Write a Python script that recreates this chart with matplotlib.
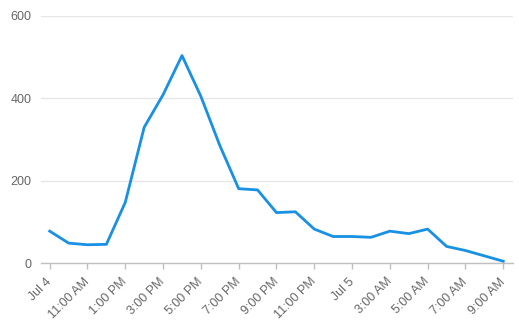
import matplotlib
matplotlib.use("Agg")
import matplotlib.pyplot as plt

plt.rcParams['font.family'] = ['Liberation Sans', 'DejaVu Sans']

values = [78, 49, 45, 46, 148, 330, 409, 504, 405, 286, 181, 178, 123, 125,
          83, 65, 65, 63, 78, 72, 83, 41, 31, 18, 5]
tick_labels = ["Jul 4", "11:00 AM", "1:00 PM", "3:00 PM", "5:00 PM", "7:00 PM",
               "9:00 PM", "11:00 PM", "Jul 5", "3:00 AM", "5:00 AM", "7:00 AM",
               "9:00 AM"]
y_ticks = [0, 200, 400, 600]

x = list(range(len(values)))
tick_pos = x[::2]

fig = plt.figure(figsize=(5.19, 3.35), dpi=100)
ax = fig.add_axes([41/519, (335-263.3)/335, (512.7-41)/519, (263.3-16)/335])

ax.plot(x, values, color='#1890e3', linewidth=2, solid_joinstyle='round', zorder=3)

ax.set_xlim(-0.46, 24.5)
ax.set_ylim(0, 600)
ax.set_yticks(y_ticks)
ax.set_yticklabels([str(v) for v in y_ticks])
ax.set_xticks(tick_pos)
ax.set_xticklabels(tick_labels, rotation=45, ha='right', va='center',
                   rotation_mode='anchor')

for s in ['top', 'right', 'left']:
    ax.spines[s].set_visible(False)
ax.spines['bottom'].set_color('#c0c0c0')
ax.spines['bottom'].set_linewidth(1)

ax.grid(axis='y', color='#e6e6e6', linewidth=1)
ax.set_axisbelow(True)
ax.tick_params(axis='y', length=0, pad=7, labelsize=9, labelcolor='#666666')
ax.tick_params(axis='x', length=4, width=1, color='#c0c0c0', pad=8,
               labelsize=9, labelcolor='#666666')

fig.savefig('out.png', dpi=100)
